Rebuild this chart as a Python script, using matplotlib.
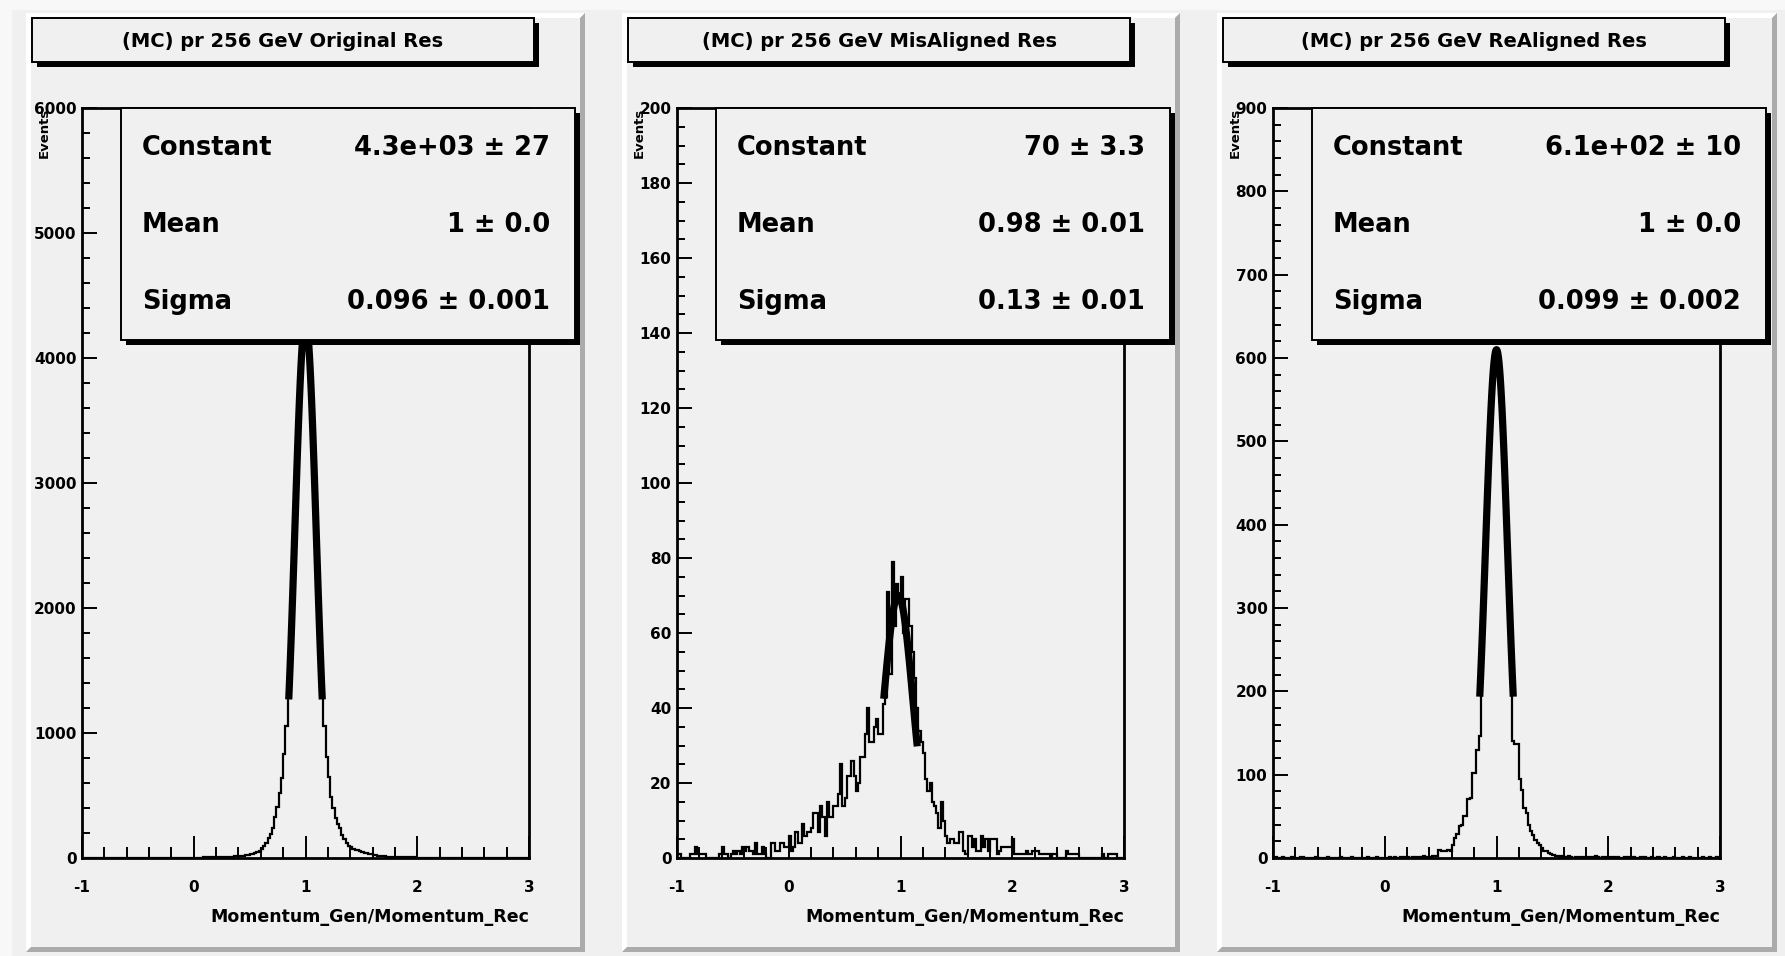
import numpy as np
import matplotlib.pyplot as plt
from matplotlib.patches import Rectangle, Polygon

plt.rcParams['font.family'] = ['DejaVu Sans']
plt.rcParams['font.weight'] = 'bold'

W, H = 1785, 956
PAD_COL = '#f0f0f0'

# histogram binning: 200 bins from -1 to 3
x_lo, x_hi, n_bins = -1.0, 3.0, 200

titles = ['(MC) pr 256 GeV Original Res',
          '(MC) pr 256 GeV MisAligned Res',
          '(MC) pr 256 GeV ReAligned Res']
y_max = [6000, 200, 900]
y_major = [1000, 20, 100]
y_minor = [200, 5, 20]
x_label = 'Momentum_Gen/Momentum_Rec'
y_label = 'Events'

# counts, bin i starts at -1 + 0.02*i
counts_orig = [
    0, 0, 0, 0, 0, 0, 0, 0, 0, 0, 0, 0, 0, 0, 0, 0, 0, 0, 0, 0,
    0, 0, 0, 0, 0, 0, 0, 0, 0, 0, 0, 0, 0, 1, 0, 0, 1, 0, 1, 1,
    1, 1, 1, 2, 2, 2, 2, 3, 3, 3, 3, 4, 4, 4, 5, 5, 5, 6, 6, 7,
    7, 8, 8, 9, 10, 10, 11, 12, 14, 15, 17, 18, 20, 22, 25, 30, 35, 40, 47, 60,
    75, 100, 120, 160, 190, 237, 331, 405, 517, 637, 832, 1056, 1350, 1720, 2230, 2770, 3300, 3750, 4100, 4300,
    4300, 4100, 3750, 3300, 2770, 2230, 1720, 1350, 1056, 811, 651, 491, 397, 317, 270, 237, 184, 150, 123, 100,
    91, 75, 64, 64, 55, 45, 40, 37, 33, 30, 25, 22, 19, 17, 15, 14, 12, 11, 10, 9,
    8, 8, 7, 7, 6, 6, 5, 5, 5, 4, 4, 4, 3, 3, 3, 3, 2, 2, 2, 2,
    2, 2, 2, 1, 1, 1, 1, 1, 1, 1, 1, 1, 1, 1, 0, 1, 1, 0, 1, 0,
    0, 1, 0, 0, 0, 1, 0, 0, 0, 0, 0, 0, 0, 0, 0, 0, 0, 0, 0, 0,
]
counts_mis = [
    1, 1, 0, 0, 0, 0, 1, 1, 3, 1, 1, 1, 1, 0, 0, 0, 0, 0, 0, 1,
    3, 1, 1, 0, 1, 2, 1, 2, 1, 3, 2, 3, 2, 2, 1, 4, 1, 1, 3, 1,
    0, 0, 4, 4, 2, 2, 4, 4, 3, 3, 6, 2, 3, 7, 4, 4, 9, 6, 7, 7,
    8, 12, 12, 7, 14, 11, 6, 15, 11, 11, 14, 14, 17, 25, 14, 16, 22, 22, 26, 22,
    18, 20, 27, 27, 33, 40, 31, 31, 35, 37, 33, 33, 41, 43, 71, 49, 79, 62, 73, 70,
    75, 60, 69, 69, 62, 55, 48, 40, 34, 31, 28, 21, 18, 20, 15, 14, 12, 8, 15, 10,
    6, 4, 5, 5, 4, 4, 7, 7, 2, 1, 6, 6, 3, 5, 2, 2, 6, 3, 5, 2,
    5, 5, 5, 1, 2, 3, 3, 3, 3, 3, 5, 1, 1, 1, 1, 1, 2, 1, 1, 2,
    2, 2, 1, 1, 1, 1, 1, 0, 1, 1, 0, 0, 0, 0, 2, 1, 1, 1, 1, 1,
    0, 0, 0, 0, 0, 0, 0, 0, 0, 0, 1, 0, 0, 1, 1, 1, 1, 0, 0, 0,
]
counts_re = [
    0, 1, 0, 0, 1, 0, 0, 0, 1, 0, 0, 0, 1, 1, 0, 0, 0, 0, 0, 1,
    0, 0, 0, 0, 1, 0, 0, 0, 0, 0, 1, 0, 0, 0, 0, 1, 0, 0, 0, 0,
    0, 0, 1, 0, 0, 0, 1, 0, 0, 0, 0, 0, 1, 0, 1, 0, 0, 1, 0, 1,
    1, 0, 1, 0, 1, 1, 1, 2, 1, 1, 1, 2, 2, 3, 10, 8, 9, 8, 10, 9,
    16, 24, 29, 38, 40, 50, 51, 71, 72, 102, 102, 130, 146, 258, 329, 404, 475, 537, 583, 607,
    607, 583, 537, 475, 404, 329, 258, 140, 137, 137, 95, 82, 60, 54, 40, 32, 28, 22, 18, 16,
    12, 8, 8, 6, 5, 4, 2, 2, 1, 2, 1, 1, 2, 1, 0, 1, 1, 0, 1, 1,
    0, 1, 1, 0, 2, 1, 0, 1, 1, 0, 1, 1, 0, 1, 1, 0, 0, 1, 0, 1,
    0, 1, 0, 0, 1, 0, 1, 0, 0, 1, 0, 0, 1, 0, 0, 1, 0, 0, 0, 1,
    0, 0, 0, 1, 0, 0, 1, 0, 0, 0, 0, 0, 1, 0, 0, 1, 0, 0, 1, 0,
]
counts = [counts_orig, counts_mis, counts_re]

# gaussian fit results shown in the stat boxes
fit_const = [4300, 70, 610]
fit_mean = [1.0, 0.98, 1.0]
fit_sigma = [0.096, 0.13, 0.099]
fit_range = (0.85, 1.15)
stat_names = ['Constant', 'Mean', 'Sigma']
stat_values = [['4.3e+03 \u00b1 27', '1 \u00b1 0.0', '0.096 \u00b1 0.001'],
               ['70 \u00b1 3.3', '0.98 \u00b1 0.01', '0.13 \u00b1 0.01'],
               ['6.1e+02 \u00b1 10', '1 \u00b1 0.0', '0.099 \u00b1 0.002']]

# layout in pixels (top-left origin)
pad_x = [(26, 585), (622, 1180), (1217, 1777)]
pad_y = (13, 952)
ax_left = [82, 677, 1273]
ax_w, ax_top, ax_bot = 447, 108, 858


def frac(x0, y0, x1, y1):
    return [x0 / W, 1 - y1 / H, (x1 - x0) / W, (y1 - y0) / H]


fig = plt.figure(figsize=(W / 100, H / 100), dpi=100)
fig.patch.set_facecolor(PAD_COL)

bg = fig.add_axes([0, 0, 1, 1], zorder=0)
bg.set_xlim(0, W)
bg.set_ylim(H, 0)
bg.axis('off')
bg.add_patch(Rectangle((0, 0), W, 10, color='#f8f8f8', lw=0))
bg.add_patch(Rectangle((0, 0), 12, H, color='#f8f8f8', lw=0))

top = fig.add_axes([0, 0, 1, 1], zorder=5)
top.set_xlim(0, W)
top.set_ylim(H, 0)
top.axis('off')
top.patch.set_alpha(0)


def bevel_box(a, x0, y0, x1, y1, b=4):
    a.add_patch(Rectangle((x0, y0), x1 - x0, y1 - y0, color=PAD_COL, lw=0))
    a.add_patch(Polygon([(x0, y1), (x0, y0), (x1, y0), (x1 - b, y0 + b),
                         (x0 + b, y0 + b), (x0 + b, y1 - b)], closed=True,
                        color='white', lw=0))
    a.add_patch(Polygon([(x0, y1), (x1, y1), (x1, y0), (x1 - b, y0 + b),
                         (x1 - b, y1 - b), (x0 + b, y1 - b)], closed=True,
                        color='#ababab', lw=0))


def shadow_box(a, x0, y0, x1, y1, s=5):
    a.add_patch(Rectangle((x0 + s, y0 + s), x1 - x0, y1 - y0, color='black', lw=0))
    a.add_patch(Rectangle((x0, y0), x1 - x0, y1 - y0, facecolor=PAD_COL,
                          edgecolor='black', lw=1.4))


edges = np.linspace(x_lo, x_hi, n_bins + 1)

for k in range(3):
    px0, px1 = pad_x[k]
    bevel_box(bg, px0, pad_y[0], px1, pad_y[1], b=5)

    ax = fig.add_axes(frac(ax_left[k], ax_top, ax_left[k] + ax_w, ax_bot), zorder=2)
    ax.set_facecolor(PAD_COL)
    ax.stairs(counts[k], edges, color='black', lw=1.6, baseline=None)
    xf = np.linspace(fit_range[0], fit_range[1], 120)
    yf = fit_const[k] * np.exp(-0.5 * ((xf - fit_mean[k]) / fit_sigma[k]) ** 2)
    ax.plot(xf, yf, color='black', lw=5.2, solid_capstyle='butt')

    ax.set_xlim(x_lo, x_hi)
    ax.set_ylim(0, y_max[k])
    ax.set_xticks(np.arange(-1, 3.01, 1))
    ax.set_xticks(np.arange(-1, 3.01, 0.2), minor=True)
    ax.set_xticklabels(['-1', '0', '1', '2', '3'])
    ax.set_yticks(np.arange(0, y_max[k] + 1, y_major[k]))
    ax.set_yticks(np.arange(0, y_max[k] + 1, y_minor[k]), minor=True)
    ax.tick_params(axis='x', which='major', direction='in', length=16, width=1.4,
                   pad=16, labelsize=11)
    ax.tick_params(axis='x', which='minor', direction='in', length=8, width=1.4)
    ax.tick_params(axis='y', which='major', direction='in', length=10.5, width=1.4,
                   pad=4, labelsize=11)
    ax.tick_params(axis='y', which='minor', direction='in', length=5.5, width=1.4)
    for sp in ax.spines.values():
        sp.set_linewidth(2.0)

    ax.set_xlabel(x_label, loc='right', fontsize=12.5, fontweight='bold')
    ax.xaxis.set_label_coords(1.0, -0.066)
    ax.text(-0.085, 1.0, y_label, transform=ax.transAxes, rotation=90,
            ha='center', va='top', fontsize=9.5, fontweight='bold')

    # title box
    tx0 = px0 + 6
    shadow_box(top, tx0, 18, tx0 + 502, 62)
    top.text(tx0 + 251, 41, titles[k], ha='center', va='center', fontsize=14,
             fontweight='bold')

    # stat box
    sx0 = ax_left[k] + 39
    shadow_box(top, sx0, ax_top, sx0 + 454, 340)
    for r, yy in enumerate([148, 225, 302]):
        top.text(sx0 + 21, yy, stat_names[r], ha='left', va='center',
                 fontsize=18.5, fontweight='bold')
        top.text(sx0 + 429, yy, stat_values[k][r], ha='right', va='center',
                 fontsize=18.5, fontweight='bold')

fig.savefig('out.png', dpi=100, facecolor=fig.get_facecolor())
